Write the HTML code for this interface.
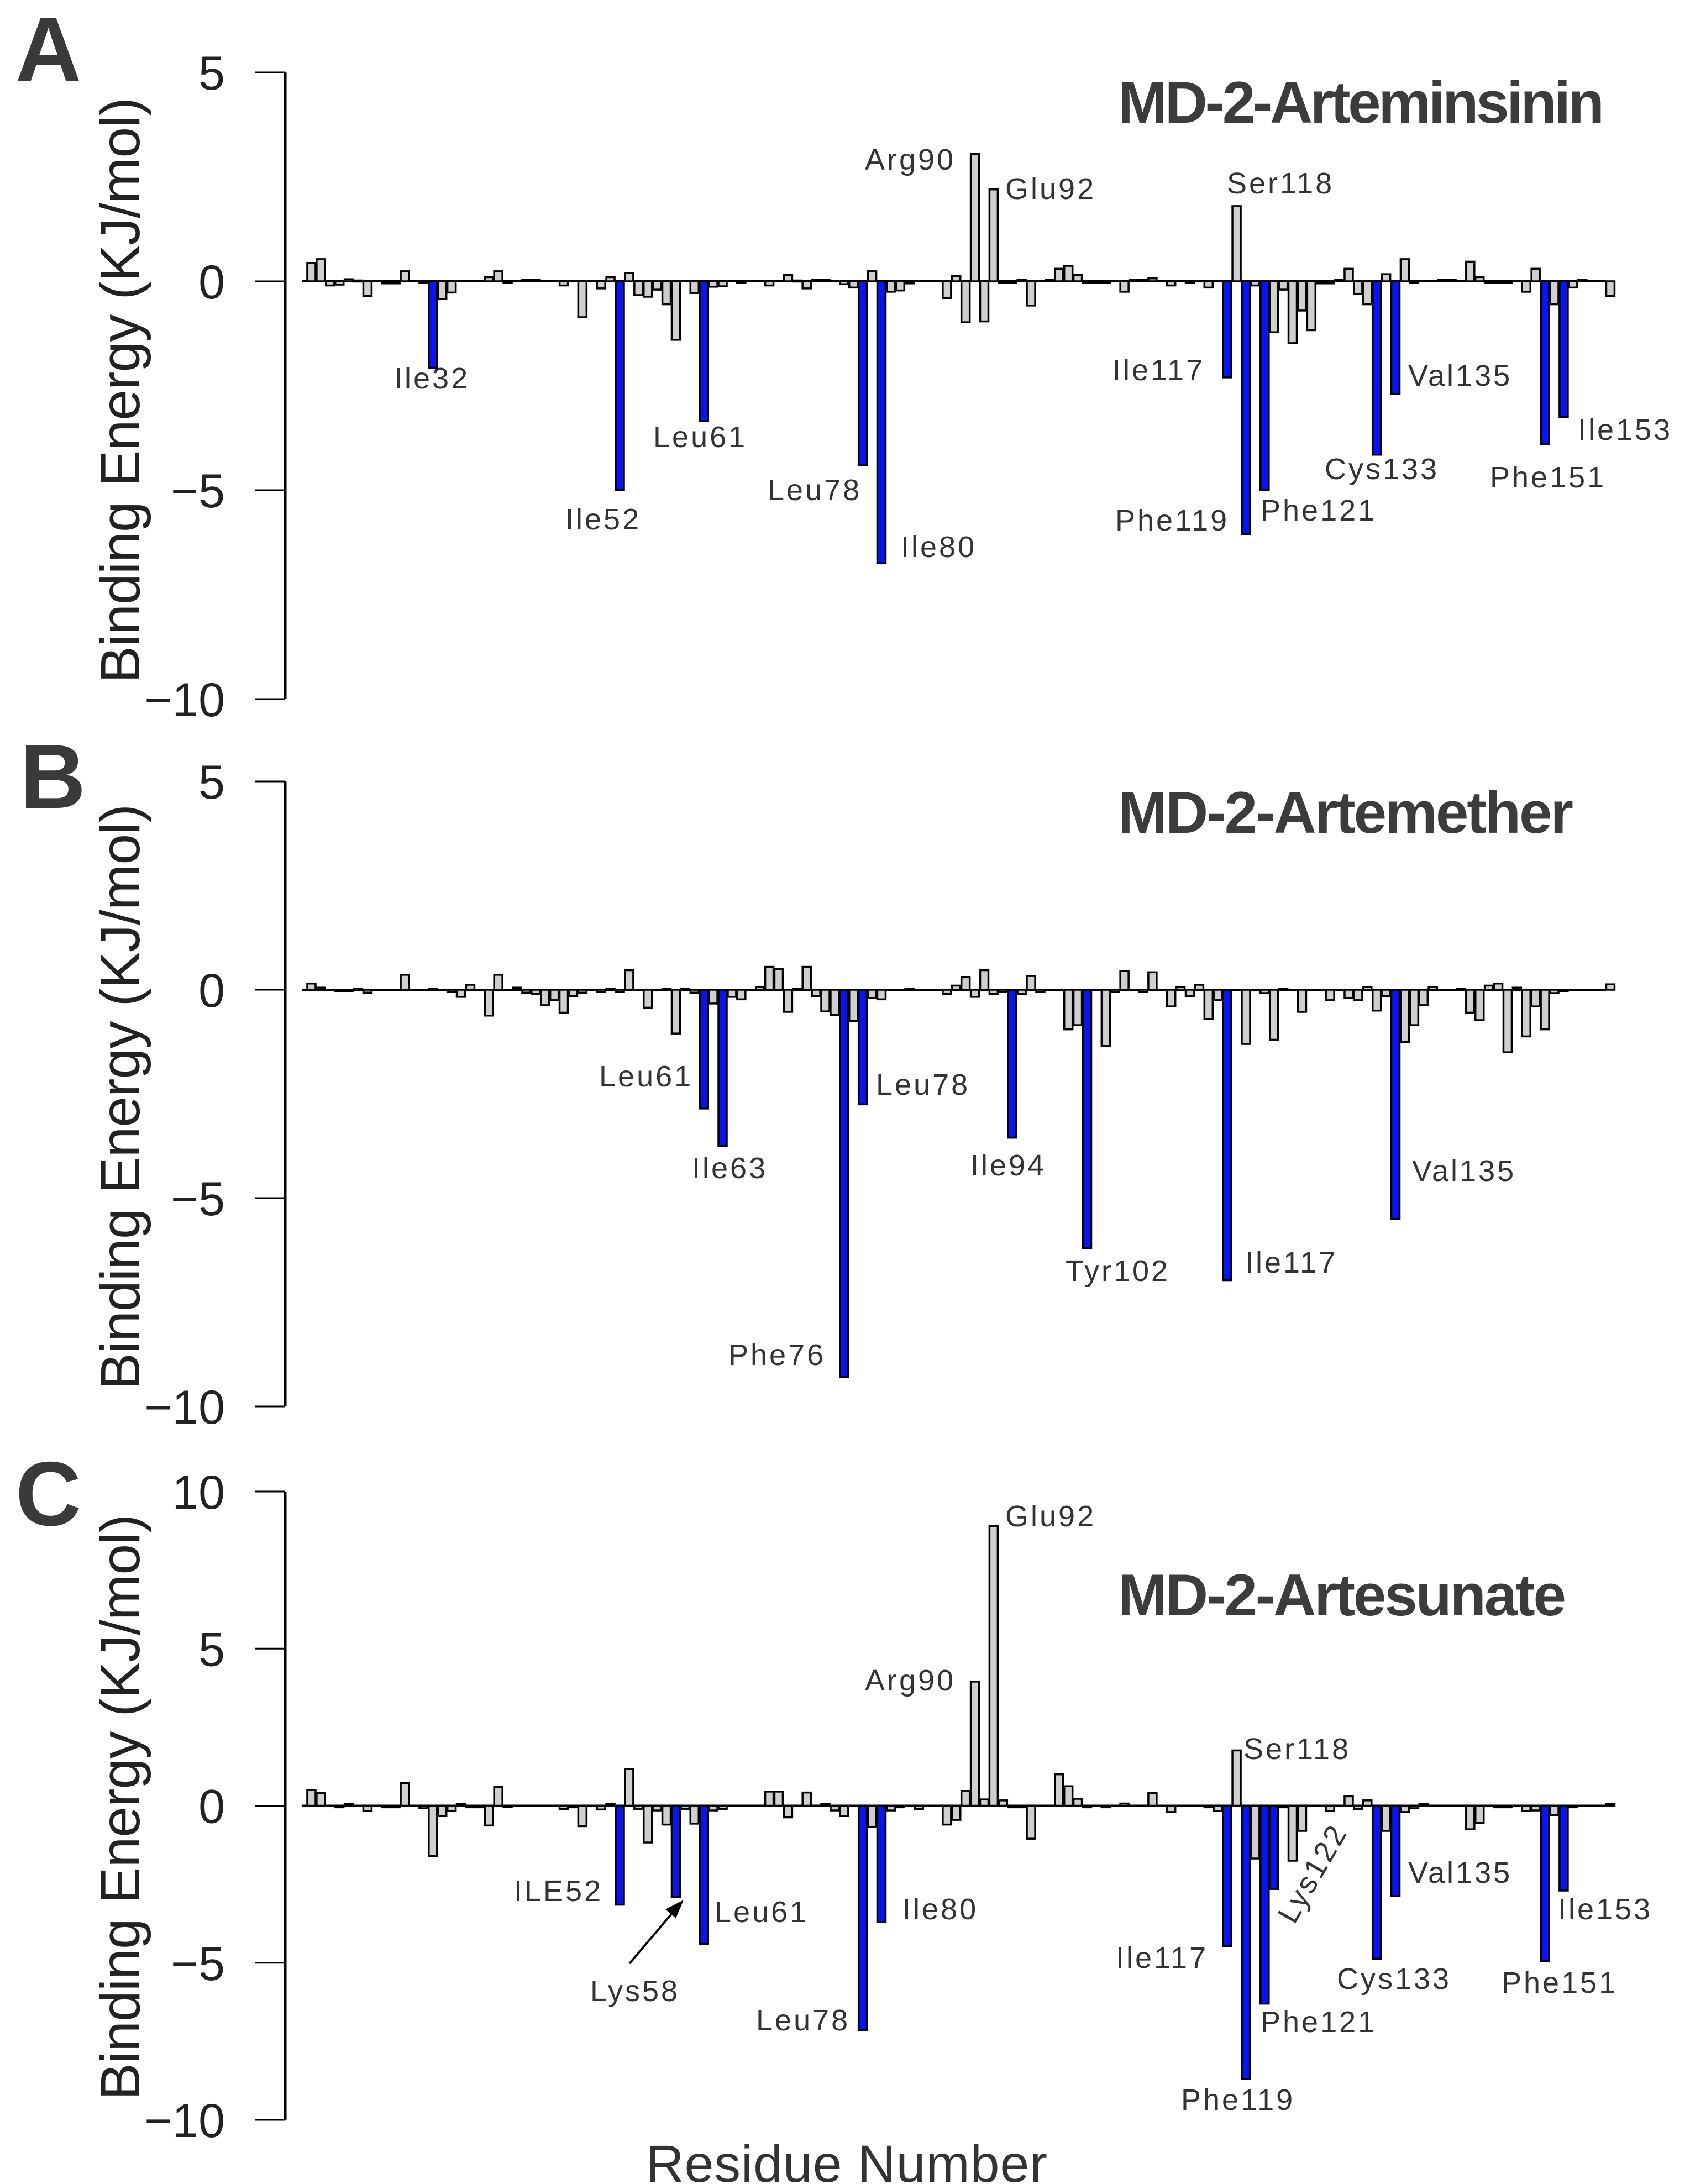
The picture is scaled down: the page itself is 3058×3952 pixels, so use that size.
<!DOCTYPE html>
<html><head><meta charset="utf-8"><style>
html,body{margin:0;padding:0;background:#fff;}
svg{display:block;}
text{font-family:"Liberation Sans",Arial,sans-serif;}
.lbl{font-size:54px;fill:#333;letter-spacing:4px;}
.tick{font-size:86px;fill:#222;text-anchor:end;}
.ttl{font-size:107px;font-weight:bold;fill:#3c3c3c;}
.plet{font-size:165px;font-weight:bold;fill:#3a3a3a;}
.ytitle{font-size:100px;fill:#222;}
</style></head><body>
<svg id="fig" xmlns="http://www.w3.org/2000/svg" width="3058" height="3952" viewBox="0 0 3058 3952">
<rect width="3058" height="3952" fill="#fff"/>
<g id="panelA">
<text class="plet" x="28" y="146">A</text>
<text class="ttl" x="2023" y="222" textLength="880">MD-2-Arteminsinin</text>
<text class="ytitle" transform="translate(252,706) rotate(-90)" text-anchor="middle" textLength="1060">Binding Energy (KJ/mol)</text>
<text class="lbl" x="1565" y="307">Arg90</text>
<text class="lbl" x="1819" y="360">Glu92</text>
<text class="lbl" x="2220" y="350">Ser118</text>
<text class="lbl" x="713" y="703">Ile32</text>
<text class="lbl" x="1023" y="958">Ile52</text>
<text class="lbl" x="1182" y="809">Leu61</text>
<text class="lbl" x="1389" y="905">Leu78</text>
<text class="lbl" x="1630" y="1008">Ile80</text>
<text class="lbl" x="2013" y="688">Ile117</text>
<text class="lbl" x="2018" y="960">Phe119</text>
<text class="lbl" x="2281" y="942">Phe121</text>
<text class="lbl" x="2397" y="867">Cys133</text>
<text class="lbl" x="2548" y="698">Val135</text>
<text class="lbl" x="2696" y="882">Phe151</text>
<text class="lbl" x="2855" y="796">Ile153</text>
</g>
<g id="panelB">
<text class="plet" x="36" y="1462">B</text>
<text class="ttl" x="2023" y="1507" textLength="824">MD-2-Artemether</text>
<text class="ytitle" transform="translate(252,1985) rotate(-90)" text-anchor="middle" textLength="1060">Binding Energy (KJ/mol)</text>
<text class="lbl" x="1084" y="1966">Leu61</text>
<text class="lbl" x="1252" y="2132">Ile63</text>
<text class="lbl" x="1585" y="1981">Leu78</text>
<text class="lbl" x="1318" y="2470">Phe76</text>
<text class="lbl" x="1756" y="2127">Ile94</text>
<text class="lbl" x="1928" y="2318">Tyr102</text>
<text class="lbl" x="2253" y="2303">Ile117</text>
<text class="lbl" x="2555" y="2137">Val135</text>
</g>
<g id="panelC">
<text class="plet" x="28" y="2760">C</text>
<text class="ttl" x="2023" y="2923" textLength="811">MD-2-Artesunate</text>
<text class="ytitle" transform="translate(252,3270) rotate(-90)" text-anchor="middle" textLength="1060">Binding Energy (KJ/mol)</text>
<text class="lbl" x="1819" y="2762">Glu92</text>
<text class="lbl" x="1565" y="3059">Arg90</text>
<text class="lbl" x="2250" y="3183">Ser118</text>
<text class="lbl" x="930" y="3440">ILE52</text>
<text class="lbl" x="1293" y="3478">Leu61</text>
<text class="lbl" x="1068" y="3621">Lys58</text>
<text class="lbl" x="1633" y="3473">Ile80</text>
<text class="lbl" x="1368" y="3674">Leu78</text>
<text class="lbl" x="2019" y="3561">Ile117</text>
<text class="lbl" x="2137" y="3818">Phe119</text>
<text class="lbl" x="2281" y="3677">Phe121</text>
<text class="lbl" x="2419" y="3599">Cys133</text>
<text class="lbl" x="2548" y="3407">Val135</text>
<text class="lbl" x="2717" y="3606">Phe151</text>
<text class="lbl" x="2819" y="3473">Ile153</text>
<text class="lbl" transform="translate(2391,3399) rotate(-60)" text-anchor="middle">Lys122</text>
<line x1="1139" y1="3553" x2="1218" y2="3460" stroke="#000" stroke-width="4"/>
<polygon points="1237,3438 1204,3455 1223,3471" fill="#000"/>
<text x="1532" y="3948" font-size="95" fill="#333" text-anchor="middle" textLength="726">Residue Number</text>
</g>
</svg>
<script>
// Panel A: MD-2-Arteminsinin
var resA = [19,20,21,22,23,24,25,27,28,29,31,32,33,34,38,39,40,42,43,46,48,50,51,52,53,54,55,56,57,58,60,61,62,63,65,68,70,71,72,73,74,76,77,78,79,80,81,82,83,87,88,89,90,91,92,93,94,95,96,98,99,100,101,102,103,104,106,107,108,109,111,113,115,117,118,119,120,121,122,123,124,125,126,127,128,129,130,131,132,133,134,135,136,137,140,141,143,144,145,146,147,149,150,151,152,153,154,155,158];
var valA = [.44,.53,-.1,-.08,.05,.02,-.35,-.05,-.05,.24,-.03,-2.07,-.42,-.27,.1,.24,-.03,.03,.03,-.1,-.86,-.17,.1,-5.0,.2,-.33,-.37,-.2,-.55,-1.4,-.28,-3.35,-.13,-.12,-.03,-.1,.15,.02,-.17,.03,.03,-.07,-.15,-4.4,.24,-6.75,-.25,-.22,-.05,-.4,.13,-.98,3.05,-.96,2.2,-.03,-.03,.03,-.58,.03,.3,.37,.15,-.03,-.03,-.03,-.25,.03,.03,.07,-.1,-.03,-.15,-2.3,1.8,-6.05,-.1,-5.0,-1.22,-.2,-1.48,-.7,-1.17,-.05,-.05,.03,.3,-.3,-.55,-4.15,.17,-2.7,.53,-.04,.03,.03,.47,.1,-.03,-.03,-.03,-.25,.3,-3.9,-.55,-3.25,-.15,.03,-.35];
var blueA = [32,52,61,78,80,117,119,121,133,135,151,153];
var ticksA = [5,0,-5,-10];
// Panel B: MD-2-Artemether
var resB = [19,20,22,23,24,25,29,32,34,35,36,38,39,41,42,43,44,45,46,47,48,50,51,52,53,55,57,58,59,60,61,62,63,64,65,67,68,69,70,71,72,73,74,75,76,77,78,79,80,83,87,88,89,90,91,92,93,94,95,96,97,100,101,102,104,105,106,108,109,111,112,113,114,115,116,117,119,121,122,123,125,128,130,131,132,133,134,135,136,137,138,139,142,143,144,145,146,147,148,149,150,151,152,153,158];
var valB = [.15,.05,-.03,-.03,.03,-.07,.36,.02,-.05,-.17,.12,-.62,.36,.05,-.07,-.1,-.37,-.25,-.55,-.15,-.07,-.05,.03,-.05,.47,-.43,.03,-1.05,.03,-.07,-2.85,-.33,-3.75,-.17,-.23,.07,.55,.5,-.53,.03,.55,-.15,-.52,-.6,-9.3,-.75,-2.75,-.2,-.23,.03,-.1,.1,.3,-.17,.47,-.1,-.05,-3.55,-.1,.33,-.05,-.95,-.85,-6.2,-1.35,-.05,.45,-.05,.42,-.4,.07,-.15,.12,-.7,-.25,-6.97,-1.3,-.08,-1.2,.03,-.53,-.25,-.2,-.25,.07,-.5,-.15,-5.5,-1.25,-.85,-.37,.07,.02,-.55,-.73,.1,.15,-1.5,.05,-1.12,-.4,-.95,-.08,-.03,.13];
var blueB = [61,63,76,78,94,102,117,135];
var ticksB = [5,0,-5,-10];
// Panel C: MD-2-Artesunate
var resC = [19,20,22,23,25,27,28,29,31,32,33,34,35,36,37,38,39,40,46,47,48,50,51,52,53,54,55,56,57,58,59,60,61,62,63,68,69,70,72,74,75,76,78,79,80,81,82,84,87,88,89,90,91,92,93,94,95,96,99,100,101,102,104,106,109,111,115,116,117,118,119,120,121,122,123,124,125,128,130,131,132,133,134,135,136,137,138,143,144,146,147,149,150,151,152,153,154,158];
var valC = [.5,.4,-.05,.05,-.17,-.05,-.05,.72,-.08,-1.6,-.33,-.17,.05,-.05,-.05,-.63,.6,-.03,-.1,-.05,-.65,-.12,.05,-3.15,1.17,-.1,-1.17,-.15,-.6,-2.9,-.1,-.57,-4.4,-.15,-.1,.45,.45,-.37,.42,.05,-.15,-.33,-7.15,-.67,-3.7,-.15,-.05,-.1,-.6,-.45,.47,3.95,.2,8.9,.17,-.05,-.05,-1.05,1.0,.62,.22,-.05,-.05,.07,.4,-.2,-.05,-.17,-4.47,1.76,-8.7,-1.68,-6.3,-2.65,-.05,-1.75,-.8,-.17,.3,-.1,.17,-4.87,-.8,-2.88,-.2,-.08,.05,-.75,-.55,-.05,-.05,-.17,-.15,-4.95,-.3,-2.7,-.05,.05];
var blueC = [52,58,61,78,80,117,119,121,122,133,135,151,153];
var ticksC = [10,5,0,-5,-10];

var NS = 'http://www.w3.org/2000/svg';
function xRes(r){ return 783.3 + (r - 32) * 16.91; }
function mk(tag, attrs){ var e = document.createElementNS(NS, tag); for (var k in attrs) e.setAttribute(k, attrs[k]); return e; }

function drawPanel(gid, res, vals, blues, ticks, yTop, yBot, vMax, vMin){
  var g = document.getElementById(gid);
  function yv(v){ return yTop + (vMax - v) / (vMax - vMin) * (yBot - yTop); }
  var y0 = yv(0);
  var ax = mk('line', {x1:516, y1:yTop, x2:516, y2:yBot, stroke:'#000', 'stroke-width':5});
  
  
  g.appendChild(ax);
  ticks.forEach(function(t){
    var ty = yv(t);
    var tl = mk('line', {x1:462, y1:ty, x2:516, y2:ty, stroke:'#000', 'stroke-width':3});
    
    
    g.appendChild(tl);
    var tx = mk('text', {x:407, y:ty + 31, 'class':'tick'});
    tx.textContent = t < 0 ? '\u2212' + Math.abs(t) : String(t);
    
    
    g.appendChild(tx);
  });
  var bl = mk('line', {x1:546, y1:y0, x2:2906, y2:y0, stroke:'#000', 'stroke-width':4});
  
  
  g.appendChild(bl);
  for (var i = 0; i < res.length; i++){
    var r = res[i], v = vals[i];
    var isBlue = blues.indexOf(r) >= 0;
    var yy = yv(v);
    var top = Math.min(yy, y0), h = Math.max(Math.abs(yy - y0), 2);
    var rect = mk('rect', {x:xRes(r) - 7.5, y:top, width:15, height:h, fill:isBlue ? '#0a14f0' : '#cfcfcf', stroke:'#000', 'stroke-width':3.5});
    
    
    g.appendChild(rect);
  }
}
drawPanel('panelA', resA, valA, blueA, ticksA, 131, 1265, 5, -10);
drawPanel('panelB', resB, valB, blueB, ticksB, 1414, 2545, 5, -10);
drawPanel('panelC', resC, valC, blueC, ticksC, 2699, 3836, 10, -10);
</script>
</body></html>
